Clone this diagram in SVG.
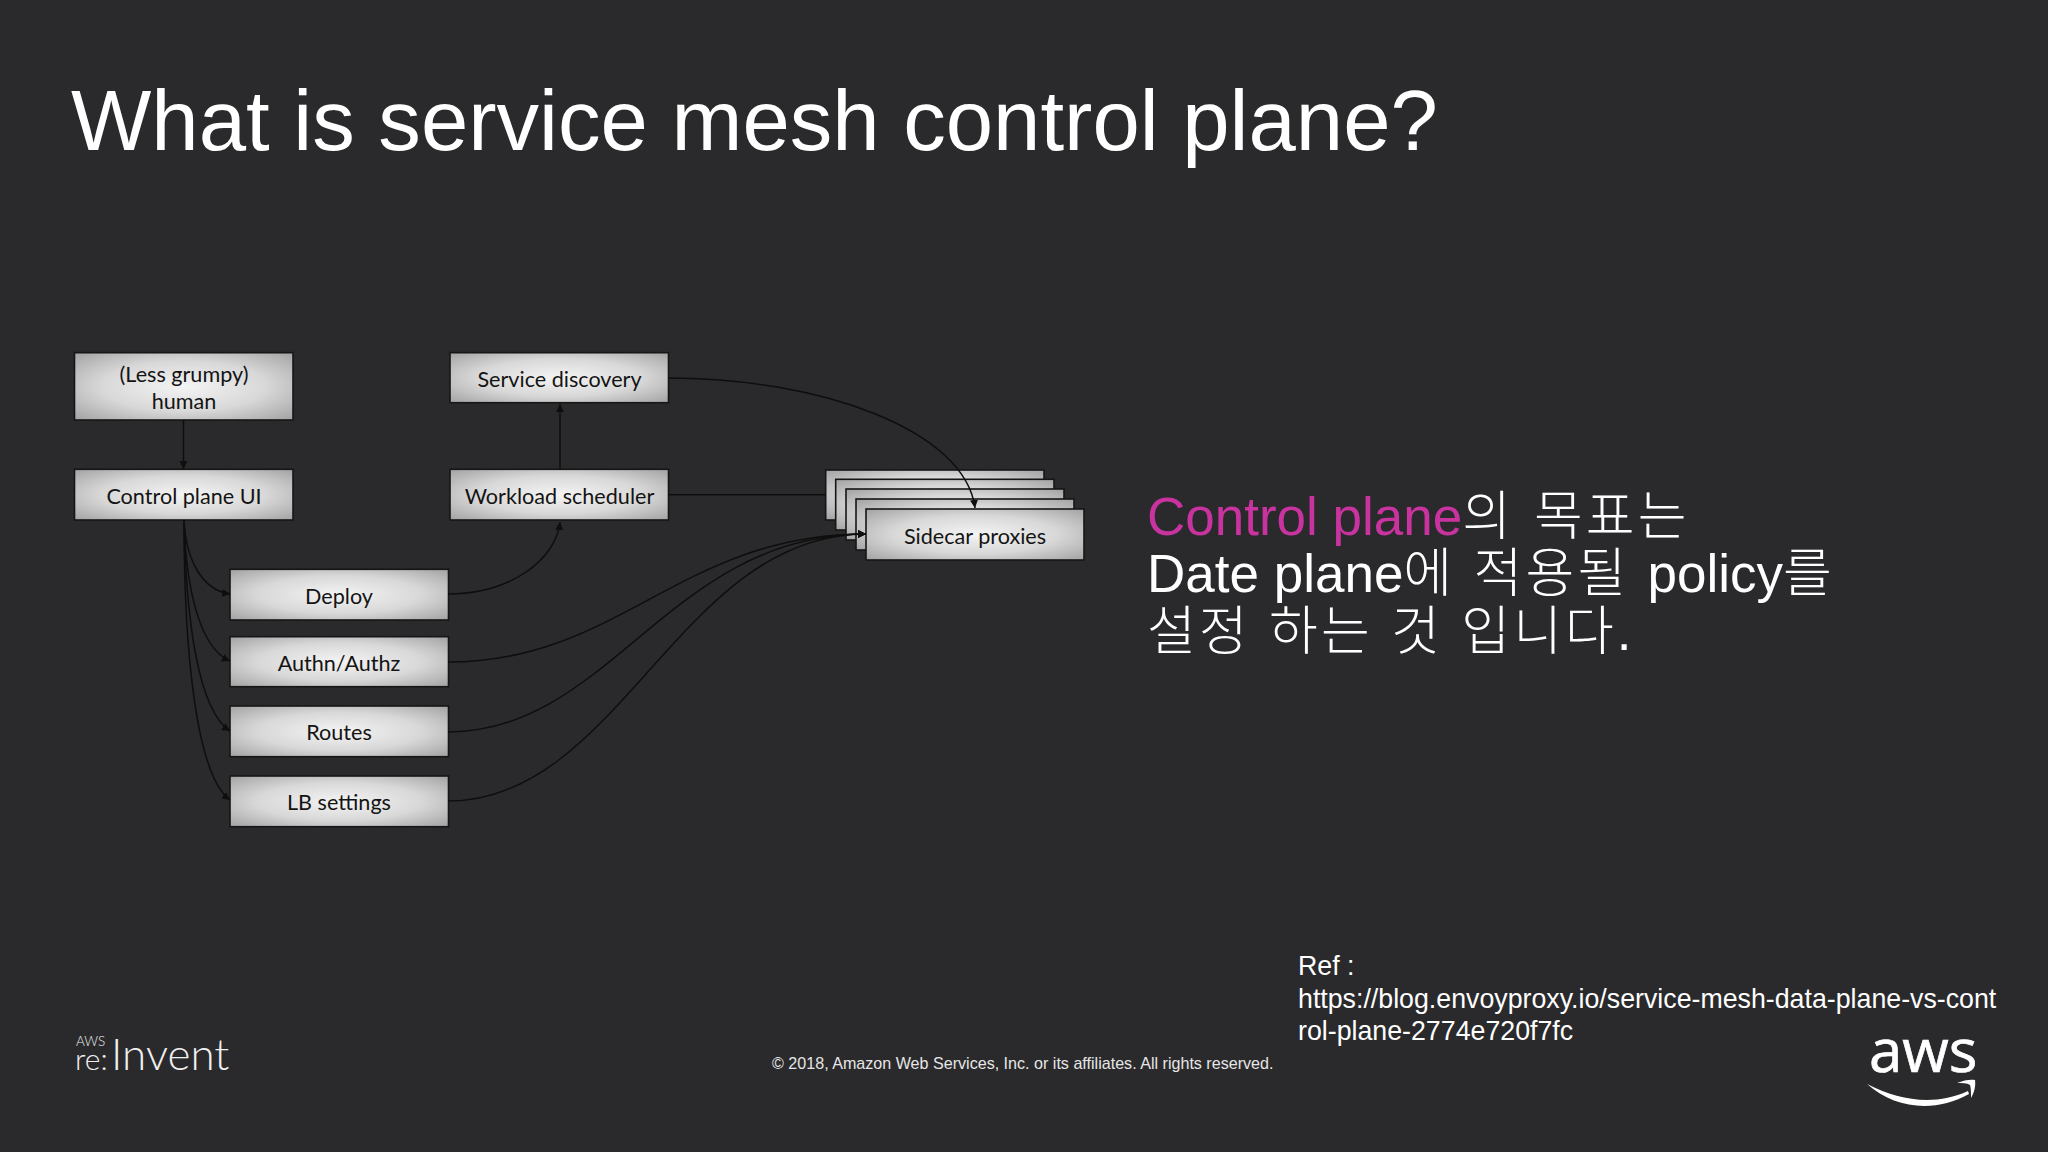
<svg xmlns="http://www.w3.org/2000/svg" width="2048" height="1152" viewBox="0 0 2048 1152">
<style>
text{font-family:"Liberation Sans",Arial,sans-serif}
.t{font-family:Lato,"Open Sans",sans-serif;font-size:21.6px;fill:#141414;text-anchor:middle}
.b{fill:url(#g);stroke:#161616;stroke-width:1.6}
.c{fill:none;stroke:#0e0e0e;stroke-width:1.5}
.a{marker-end:url(#m)}
.k{font-family:"Liberation Sans","Noto Sans CJK KR",sans-serif;font-size:53px;fill:#fff;font-weight:300}
.h{font-size:53px;letter-spacing:3.1px;word-spacing:.5px}
.r{font-size:26.75px;fill:#fff}
.l{font-family:Lato,sans-serif;fill:#f0f0f0;font-weight:300}
</style>
<defs>
<radialGradient id="g" cx=".5" cy=".5" r=".68"><stop offset="0" stop-color="#f4f4f4"/><stop offset=".55" stop-color="#d8d8d8"/><stop offset="1" stop-color="#a6a6a6"/></radialGradient>
<marker id="m" markerUnits="userSpaceOnUse" markerWidth="10" markerHeight="10" refX="8" refY="4" orient="auto"><path d="M0 0L8 4L0 8z" fill="#0e0e0e"/></marker>
</defs>
<rect width="2048" height="1152" fill="#2a2a2c"/>
<text id="title" x="71" y="150" font-size="85.1" fill="#fff">What is service mesh control plane?</text>
<g id="human"><rect class="b" x="74.5" y="352.7" width="218.5" height="67.3"/><text class="t" x="184" y="381.5">(Less grumpy)</text><text class="t" x="184" y="408.5">human</text></g>
<g id="service-discovery"><rect class="b" x="450" y="352.7" width="218.5" height="50"/><text class="t" x="559.5" y="387">Service discovery</text></g>
<g id="control-plane-ui"><rect class="b" x="74.5" y="469.3" width="218.5" height="50.7"/><text class="t" x="184" y="503.5">Control plane UI</text></g>
<g id="workload-scheduler"><rect class="b" x="450" y="469.3" width="218.5" height="50.7"/><text class="t" x="559.5" y="503.5">Workload scheduler</text></g>
<g id="deploy"><rect class="b" x="230" y="569.3" width="218.5" height="50.7"/><text class="t" x="339" y="603.5">Deploy</text></g>
<g id="authn"><rect class="b" x="230" y="636.7" width="218.5" height="50"/><text class="t" x="339" y="670.5">Authn/Authz</text></g>
<g id="routes"><rect class="b" x="230" y="706" width="218.5" height="50.7"/><text class="t" x="339" y="740">Routes</text></g>
<g id="lb-settings"><rect class="b" x="230" y="776" width="218.5" height="50.7"/><text class="t" x="339" y="810">LB settings</text></g>
<g id="sidecar-proxies">
<rect class="b" x="825.7" y="470" width="218.3" height="50"/>
<rect class="b" x="835.7" y="479.3" width="218.3" height="50.7"/>
<rect class="b" x="846" y="489" width="218" height="51"/>
<rect class="b" x="856" y="499" width="218" height="51"/>
<rect class="b" x="866" y="509" width="218" height="51"/>
<text class="t" x="975" y="543.5">Sidecar proxies</text></g>
<g id="connectors">
<path class="c a" d="M183.5 420V469"/>
<path class="c a" d="M560 469V404"/>
<path class="c" d="M668 494.7H826"/>
<path class="c a" d="M668 378C820 378 965 430 975 508"/>
<path class="c a" d="M184 520C186 560 202 590 230 594"/>
<path class="c a" d="M184 520C186 590 200 648 230 661"/>
<path class="c a" d="M184 520C186 620 198 710 230 731"/>
<path class="c a" d="M184 520C184 650 196 775 230 800"/>
<path class="c a" d="M448 594C510 594 556 560 560 522"/>
<path class="c a" d="M448 662C620 662 680 534 866 534"/>
<path class="c a" d="M448 732C610 732 670 534 866 534"/>
<path class="c a" d="M448 801C620 801 680 534 866 534"/>
</g>
<text class="k" x="1147" y="535"><tspan fill="#c9339f">Control plane</tspan><tspan class="h" style="word-spacing:2px">의 목표는</tspan></text>
<text class="k" x="1147" y="592">Date plane<tspan class="h">에 적용될 </tspan>policy<tspan class="h">를</tspan></text>
<text class="k" x="1147" y="650"><tspan class="h">설정 하는 것 입니다.</tspan></text>
<text class="r" x="1298" y="975">Ref :</text>
<text class="r" x="1298" y="1008">https://blog.envoyproxy.io/service-mesh-data-plane-vs-cont</text>
<text class="r" x="1298" y="1040">rol-plane-2774e720f7fc</text>
<text x="772" y="1069" font-size="16.1" fill="#e6e6e6">© 2018, Amazon Web Services, Inc. or its affiliates. All rights reserved.</text>
<g id="reinvent-logo">
<text class="l"><tspan x="76" y="1046" font-size="13.5">AWS</tspan><tspan x="75" y="1070" font-size="30">re:</tspan><tspan x="111" y="1070" font-size="44">Invent</tspan></text>
</g>
<g id="aws-logo" fill="#fff">
<text x="1869" y="1072" font-size="60" stroke="#fff" stroke-width=".7" style="font-family:'Open Sans',sans-serif">aws</text>
<path d="M1867 1084C1900 1101 1935 1106 1968 1091L1969 1094C1935 1113 1895 1109 1867 1084Z"/>
<path d="M1957 1083C1964 1080 1971 1079 1975 1080C1976 1086 1974 1093 1971 1098C1971 1093 1971 1088 1970 1085C1967 1083 1962 1083 1957 1083Z"/>
</g>
</svg>
